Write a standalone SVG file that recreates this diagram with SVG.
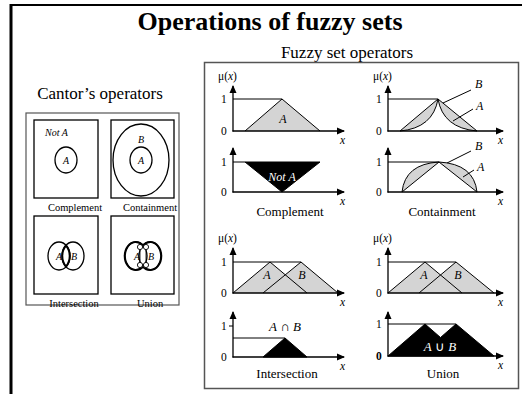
<svg xmlns="http://www.w3.org/2000/svg" width="522" height="394" viewBox="0 0 522 394">
<defs>
<marker id="arr" markerWidth="8" markerHeight="8" refX="7" refY="4" orient="auto" markerUnits="userSpaceOnUse">
<path d="M0,0.5 L8,4 L0,7.5 Z" fill="#000"/>
</marker>
<style>
text{font-family:"Liberation Serif","Times New Roman",serif;fill:#000}
.ax{stroke:#000;stroke-width:1.3;fill:none;marker-end:url(#arr)}
.ln{stroke:#000;stroke-width:1;fill:none}
.g{fill:#d4d4d4;stroke:none}
.blk{fill:#000;stroke:#000;stroke-width:1}
.lab{font-size:11.5px}
.it{font-style:italic}
.cap{font-size:13px;text-anchor:middle}
.ccap{font-size:10.5px;text-anchor:middle}
.box{fill:#fff;stroke:#000;stroke-width:1.3}
.ell{fill:none;stroke:#000;stroke-width:1.3}
</style>
</defs>
<rect width="522" height="394" fill="#fff"/>
<line x1="11" y1="5" x2="522" y2="5" stroke="#000" stroke-width="2"/>
<line x1="11" y1="4" x2="11" y2="394" stroke="#000" stroke-width="3"/>
<text x="270" y="30" font-size="26" font-weight="bold" text-anchor="middle">Operations of fuzzy sets</text>
<text x="347" y="58" font-size="17" text-anchor="middle">Fuzzy set operators</text>

<g id="cantor">
<text x="100" y="99" font-size="17" text-anchor="middle">Cantor’s operators</text>
<rect x="26" y="113" width="153" height="192" fill="none" stroke="#555" stroke-width="1.2"/>
</g>
<g id="cantor-complement">
<rect class="box" x="34" y="120" width="64" height="78"/>
<text x="45" y="136" font-size="10" class="it">Not A</text>
<ellipse class="ell" cx="66" cy="160" rx="11" ry="13"/>
<text x="66" y="164" font-size="10" class="it" text-anchor="middle">A</text>
<text x="75" y="211" class="ccap">Complement</text>
</g>
<g id="cantor-containment">
<rect class="box" x="111" y="120" width="63" height="78"/>
<ellipse class="ell" cx="141" cy="160" rx="28" ry="36"/>
<ellipse class="ell" cx="141" cy="160" rx="11" ry="13"/>
<text x="141" y="143" font-size="10" class="it" text-anchor="middle">B</text>
<text x="141" y="164" font-size="10" class="it" text-anchor="middle">A</text>
<text x="150" y="211" class="ccap">Containment</text>
</g>
<g id="cantor-intersection">
<rect class="box" x="34" y="216" width="64" height="78"/>
<ellipse class="ell" cx="59" cy="256" rx="11" ry="14" stroke-width="1"/>
<ellipse class="ell" cx="73" cy="256" rx="11" ry="14" stroke-width="1"/>
<path d="M66,245.5 A11,14 0 0 1 66,266.5 A11,14 0 0 1 66,245.5 Z" fill="none" stroke="#000" stroke-width="2"/>
<text x="59" y="260" font-size="10" class="it" text-anchor="middle">A</text>
<text x="74" y="260" font-size="10" class="it" text-anchor="middle">B</text>
<text x="74" y="307" class="ccap">Intersection</text>
</g>
<g id="cantor-union">
<rect class="box" x="111" y="216" width="63" height="78"/>
<ellipse class="ell" cx="136" cy="256" rx="11" ry="14" stroke-width="1"/>
<ellipse class="ell" cx="150" cy="256" rx="11" ry="14" stroke-width="1"/>
<path d="M143,245.5 A11,14 0 1 0 143,266.5 A11,14 0 1 0 143,245.5 Z" fill="none" stroke="#000" stroke-width="2"/>
<rect x="140" y="247" width="6" height="18" fill="none" stroke="#000" stroke-width="0.8"/>
<circle cx="140" cy="247" r="2.6" fill="#fff" stroke="#000" stroke-width="0.9"/>
<circle cx="146" cy="247" r="2.6" fill="#fff" stroke="#000" stroke-width="0.9"/>
<circle cx="140" cy="265" r="2.6" fill="#fff" stroke="#000" stroke-width="0.9"/>
<circle cx="146" cy="265" r="2.6" fill="#fff" stroke="#000" stroke-width="0.9"/>
<text x="137" y="260" font-size="10" class="it" text-anchor="middle">A</text>
<text x="151" y="260" font-size="10" class="it" text-anchor="middle">B</text>
<text x="150" y="307" class="ccap">Union</text>
</g>

<g id="fuzzy-panel">
<rect x="204.5" y="62.5" width="314" height="326" fill="none" stroke="#555" stroke-width="1.5"/>
</g>

<g id="fuzzy-complement">
<text x="218" y="80" class="lab">μ(<tspan class="it">x</tspan>)</text>
<text x="221" y="103" class="lab">1</text>
<text x="221" y="135" class="lab">0</text>
<polygon class="g" points="245,131 282,99 320,131"/>
<polyline class="ln" points="233,99 282,99 320,131"/>
<line class="ln" x1="245" y1="131" x2="282" y2="99"/>
<text x="283" y="123" font-size="12" class="it" text-anchor="middle">A</text>
<line class="ax" x1="233" y1="131.5" x2="233" y2="86"/>
<line class="ax" x1="232.5" y1="131" x2="344" y2="131"/>
<text x="340" y="144" class="lab it">x</text>
<text x="221" y="166" class="lab">1</text>
<text x="221" y="196" class="lab">0</text>
<line class="ln" x1="233" y1="162" x2="245" y2="162"/>
<polygon class="blk" points="245,162 320,162 282,192"/>
<text x="282" y="181" font-size="12" class="it" text-anchor="middle" style="fill:#fff">Not A</text>
<line class="ax" x1="233" y1="192.5" x2="233" y2="148"/>
<line class="ax" x1="232.5" y1="192" x2="344" y2="192"/>
<text x="340" y="205" class="lab it">x</text>
<text x="290" y="216" class="cap">Complement</text>
</g>

<g id="fuzzy-containment">
<text x="373" y="80" class="lab">μ(<tspan class="it">x</tspan>)</text>
<text x="376" y="103" class="lab">1</text>
<text x="376" y="135" class="lab">0</text>
<path class="g" d="M400,131 L438,99 L477,131 Q443,128 438,99 Q433,128 400,131 Z"/>
<polyline class="ln" points="388,99 438,99"/>
<polyline class="ln" points="400,131 438,99 477,131"/>
<path class="ln" d="M400,131 Q433,128 438,99 Q443,128 477,131"/>
<line class="ln" x1="471" y1="90" x2="443" y2="103"/>
<line class="ln" x1="473" y1="109" x2="453" y2="121"/>
<text x="475" y="88" font-size="12" class="it">B</text>
<text x="476" y="110" font-size="12" class="it">A</text>
<line class="ax" x1="388" y1="131.5" x2="388" y2="86"/>
<line class="ax" x1="387.5" y1="131" x2="503" y2="131"/>
<text x="498" y="144" class="lab it">x</text>
<text x="376" y="166" class="lab">1</text>
<text x="376" y="196" class="lab">0</text>
<path class="g" d="M402,192 Q405,164 439,162 Q474,164 477,192 L439,162 Z"/>
<polyline class="ln" points="388,162 439,162"/>
<polyline class="ln" points="402,192 439,162 477,192"/>
<path class="ln" d="M402,192 Q405,164 439,162 Q474,164 477,192"/>
<line class="ln" x1="471" y1="151" x2="447" y2="163"/>
<line class="ln" x1="474" y1="170" x2="463" y2="177"/>
<text x="475" y="150" font-size="12" class="it">B</text>
<text x="477" y="171" font-size="12" class="it">A</text>
<line class="ax" x1="388" y1="192.5" x2="388" y2="148"/>
<line class="ax" x1="387.5" y1="192" x2="503" y2="192"/>
<text x="498" y="205" class="lab it">x</text>
<text x="442" y="216" class="cap">Containment</text>
</g>

<g id="fuzzy-intersection">
<text x="218" y="242" class="lab">μ(<tspan class="it">x</tspan>)</text>
<text x="221" y="266" class="lab">1</text>
<text x="221" y="297" class="lab">0</text>
<polygon class="g" points="233,293 270,262 307,293"/>
<polygon class="g" points="263,293 301,262 338,293"/>
<line class="ln" x1="233" y1="262" x2="301" y2="262"/>
<polyline class="ln" points="233,293 270,262 307,293"/>
<polyline class="ln" points="263,293 301,262 338,293"/>
<text x="267" y="279" font-size="12" class="it" text-anchor="middle">A</text>
<text x="302" y="279" font-size="12" class="it" text-anchor="middle">B</text>
<line class="ax" x1="233" y1="293.5" x2="233" y2="248"/>
<line class="ax" x1="232.5" y1="293" x2="344" y2="293"/>
<text x="340" y="306" class="lab it">x</text>
<text x="221" y="330" class="lab">1</text>
<line class="ln" x1="229" y1="326" x2="233" y2="326"/>
<text x="221" y="361" class="lab">0</text>
<line class="ln" x1="233" y1="338" x2="285" y2="338"/>
<polygon class="blk" points="263,357 285,338 307,357"/>
<text x="285" y="331" font-size="13" text-anchor="middle"><tspan class="it">A</tspan> ∩ <tspan class="it">B</tspan></text>
<line class="ax" x1="233" y1="357.5" x2="233" y2="312"/>
<line class="ax" x1="232.5" y1="357" x2="344" y2="357"/>
<text x="340" y="370" class="lab it">x</text>
<text x="287" y="378" class="cap">Intersection</text>
</g>

<g id="fuzzy-union">
<text x="373" y="242" class="lab">μ(<tspan class="it">x</tspan>)</text>
<text x="376" y="266" class="lab">1</text>
<text x="376" y="297" class="lab">0</text>
<polygon class="g" points="388,293 425,262 462,293"/>
<polygon class="g" points="419,293 456,262 494,293"/>
<line class="ln" x1="388" y1="262" x2="456" y2="262"/>
<polyline class="ln" points="388,293 425,262 462,293"/>
<polyline class="ln" points="419,293 456,262 494,293"/>
<text x="424" y="279" font-size="12" class="it" text-anchor="middle">A</text>
<text x="458" y="279" font-size="12" class="it" text-anchor="middle">B</text>
<line class="ax" x1="388" y1="293.5" x2="388" y2="248"/>
<line class="ax" x1="387.5" y1="293" x2="503" y2="293"/>
<text x="498" y="306" class="lab it">x</text>
<text x="376" y="328" class="lab">1</text>
<text x="376" y="360" class="lab" font-weight="bold">0</text>
<line class="ln" x1="388" y1="324" x2="456" y2="324"/>
<polygon class="blk" points="388,356 425,324 440.5,337.5 456,324 494,356"/>
<text x="440" y="351" font-size="13" text-anchor="middle" style="fill:#fff"><tspan class="it" style="fill:#fff">A</tspan> ∪ <tspan class="it" style="fill:#fff">B</tspan></text>
<line class="ax" x1="388" y1="356.5" x2="388" y2="312"/>
<line class="ax" x1="387.5" y1="356" x2="503" y2="356"/>
<text x="498" y="369" class="lab it">x</text>
<text x="443" y="378" class="cap">Union</text>
</g>
</svg>
